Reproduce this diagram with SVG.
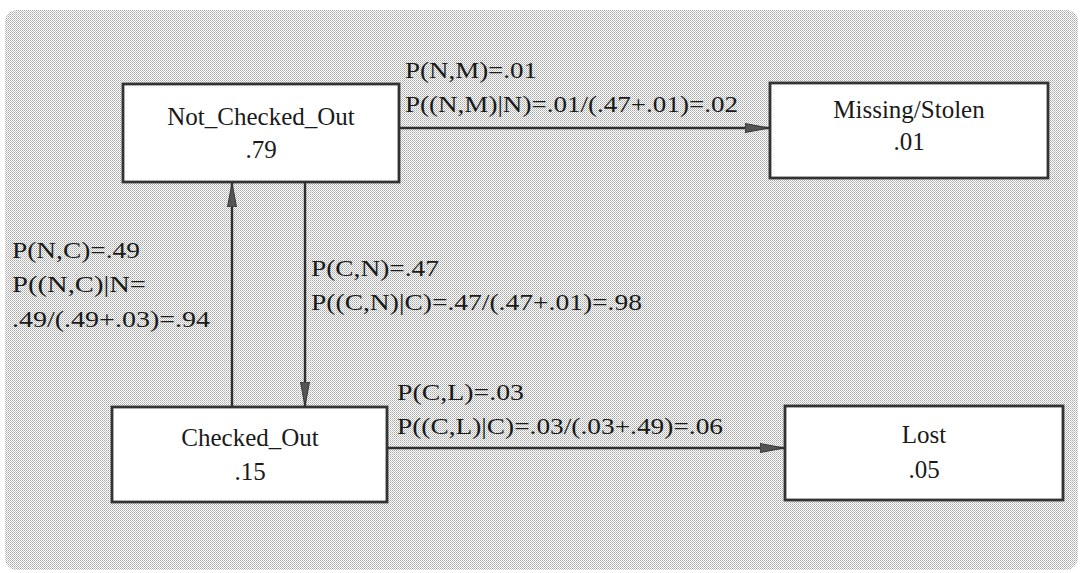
<svg xmlns="http://www.w3.org/2000/svg" width="1081" height="573" viewBox="0 0 1081 573">
<defs>
<pattern id="dots" width="2" height="2" patternUnits="userSpaceOnUse">
<rect width="2" height="2" fill="#ffffff"/>
<rect x="0" y="0" width="1" height="1" fill="#a8a8a8"/>
<rect x="1" y="1" width="1" height="1" fill="#c4c4c4"/>
</pattern>
<marker id="arr" viewBox="0 0 24 12" refX="24" refY="6" markerWidth="24" markerHeight="12" markerUnits="userSpaceOnUse" orient="auto">
<path d="M0,1.5 L24,6 L0,10.5 Z" fill="#555" stroke="#333" stroke-width="1"/>
</marker>
<style>
.node rect{fill:#fff;stroke:#333;stroke-width:2.8}
text{font-family:'Liberation Serif','Times New Roman',serif;fill:#1a1a1a}
.n{font-size:25px;text-anchor:middle}
.l{font-size:24px}
.c line{stroke:#2e2e2e;stroke-width:2.4;fill:none}
</style>
</defs>
<rect width="1081" height="573" fill="#fff"/>
<rect x="5" y="10" width="1073" height="560" rx="12" fill="url(#dots)"/>
<g class="c" id="connectors">
<line x1="399" y1="128" x2="769" y2="128" marker-end="url(#arr)"/>
<line x1="387" y1="448" x2="784" y2="448" marker-end="url(#arr)"/>
<line x1="232" y1="407" x2="232" y2="183" marker-end="url(#arr)"/>
<line x1="305" y1="182" x2="305" y2="406" marker-end="url(#arr)"/>
</g>
<g class="node" id="not_checked_out">
<rect x="123" y="84" width="276" height="98"/>
<text class="n" x="261" y="125">Not_Checked_Out</text>
<text class="n" x="261" y="158">.79</text>
</g>
<g class="node" id="missing_stolen">
<rect x="770" y="83" width="278" height="95"/>
<text class="n" x="909" y="118">Missing/Stolen</text>
<text class="n" x="909" y="150">.01</text>
</g>
<g class="node" id="checked_out">
<rect x="112" y="407" width="275" height="95"/>
<text class="n" x="250" y="446">Checked_Out</text>
<text class="n" x="250" y="480">.15</text>
</g>
<g class="node" id="lost">
<rect x="785" y="406" width="278" height="94"/>
<text class="n" x="924" y="443">Lost</text>
<text class="n" x="924" y="478">.05</text>
</g>
<g id="labels">
<text class="l" x="405" y="78" textLength="132" lengthAdjust="spacingAndGlyphs">P(N,M)=.01</text>
<text class="l" x="405" y="112" textLength="333" lengthAdjust="spacingAndGlyphs">P((N,M)|N)=.01/(.47+.01)=.02</text>
<text class="l" x="12" y="258" textLength="128" lengthAdjust="spacingAndGlyphs">P(N,C)=.49</text>
<text class="l" x="12" y="292" textLength="134" lengthAdjust="spacingAndGlyphs">P((N,C)|N=</text>
<text class="l" x="12" y="327" textLength="198" lengthAdjust="spacingAndGlyphs">.49/(.49+.03)=.94</text>
<text class="l" x="311" y="276" textLength="128" lengthAdjust="spacingAndGlyphs">P(C,N)=.47</text>
<text class="l" x="311" y="310" textLength="331" lengthAdjust="spacingAndGlyphs">P((C,N)|C)=.47/(.47+.01)=.98</text>
<text class="l" x="397" y="400" textLength="127" lengthAdjust="spacingAndGlyphs">P(C,L)=.03</text>
<text class="l" x="397" y="434" textLength="326" lengthAdjust="spacingAndGlyphs">P((C,L)|C)=.03/(.03+.49)=.06</text>
</g>
</svg>
